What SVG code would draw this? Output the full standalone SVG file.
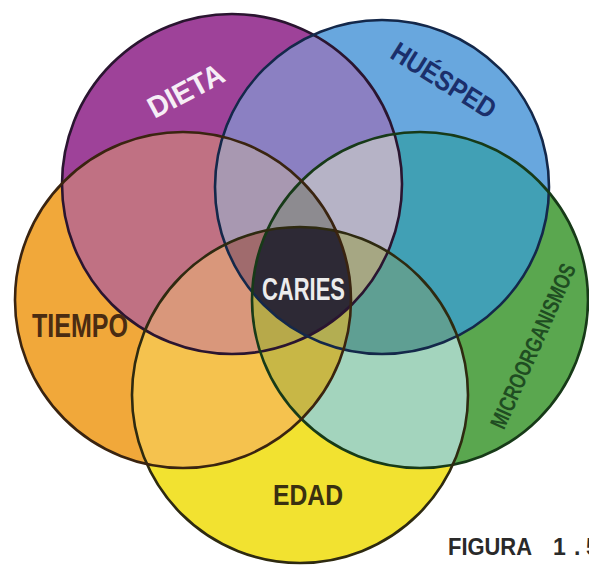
<svg xmlns="http://www.w3.org/2000/svg" width="589" height="566" viewBox="0 0 589 566">
<style>
.lbl{font-family:"Liberation Sans","DejaVu Sans",sans-serif;font-weight:bold}
.ol{fill:none;stroke-width:2.6}
</style>
<defs>
<circle id="D" cx="232" cy="184" r="170"/>
<circle id="H" cx="382" cy="187" r="167"/>
<circle id="M" cx="420" cy="300" r="168"/>
<circle id="E" cx="300" cy="395" r="168"/>
<circle id="T" cx="183" cy="300" r="168"/>
<clipPath id="cD"><use href="#D"/></clipPath>
<clipPath id="cH"><use href="#H"/></clipPath>
<clipPath id="cM"><use href="#M"/></clipPath>
<clipPath id="cE"><use href="#E"/></clipPath>
<clipPath id="cT"><use href="#T"/></clipPath>
</defs>
<rect width="589" height="566" fill="#ffffff"/>

<g id="sets">
<g id="node-dieta"><use href="#D" fill="#9e4299"/></g>
<g id="node-huesped"><use href="#H" fill="#68a7de"/></g>
<g id="node-micro"><use href="#M" fill="#5aa74f"/></g>
<g id="node-edad"><use href="#E" fill="#f2e230"/></g>
<g id="node-tiempo"><use href="#T" fill="#f1a83a"/></g>
</g>

<g id="pairs">
<g clip-path="url(#cD)"><use href="#H" fill="#8b80c2"/></g>
<g clip-path="url(#cH)"><use href="#M" fill="#41a0b5"/></g>
<g clip-path="url(#cM)"><use href="#E" fill="#a3d4bd"/></g>
<g clip-path="url(#cE)"><use href="#T" fill="#f5c24e"/></g>
<g clip-path="url(#cT)"><use href="#D" fill="#c07183"/></g>
</g>

<g id="triples">
<g clip-path="url(#cT)"><g clip-path="url(#cD)"><use href="#H" fill="#a898b1"/></g></g>
<g clip-path="url(#cD)"><g clip-path="url(#cH)"><use href="#M" fill="#b6b3c6"/></g></g>
<g clip-path="url(#cH)"><g clip-path="url(#cM)"><use href="#E" fill="#5f9f93"/></g></g>
<g clip-path="url(#cM)"><g clip-path="url(#cE)"><use href="#T" fill="#c8b746"/></g></g>
<g clip-path="url(#cE)"><g clip-path="url(#cT)"><use href="#D" fill="#d9977b"/></g></g>
</g>

<g id="quads">
<g clip-path="url(#cT)"><g clip-path="url(#cD)"><g clip-path="url(#cH)"><use href="#M" fill="#8d8b90"/></g></g></g>
<g clip-path="url(#cD)"><g clip-path="url(#cH)"><g clip-path="url(#cM)"><use href="#E" fill="#a6a783"/></g></g></g>
<g clip-path="url(#cH)"><g clip-path="url(#cM)"><g clip-path="url(#cE)"><use href="#T" fill="#b3ae52"/></g></g></g>
<g clip-path="url(#cM)"><g clip-path="url(#cE)"><g clip-path="url(#cT)"><use href="#D" fill="#b7a94a"/></g></g></g>
<g clip-path="url(#cE)"><g clip-path="url(#cT)"><g clip-path="url(#cD)"><use href="#H" fill="#a06b6d"/></g></g></g>
</g>

<g id="node-caries">
<g clip-path="url(#cD)"><g clip-path="url(#cH)"><g clip-path="url(#cM)"><g clip-path="url(#cE)"><use href="#T" fill="#2d2935"/></g></g></g></g>
</g>

<g id="outlines">
<use href="#D" class="ol" stroke="#2a1530"/>
<use href="#H" class="ol" stroke="#14284a"/>
<use href="#M" class="ol" stroke="#173a18"/>
<use href="#E" class="ol" stroke="#2e2a10"/>
<use href="#T" class="ol" stroke="#3a2410"/>
</g>

<g id="labels">
<text class="lbl" transform="translate(186,91) rotate(-28)" y="10" text-anchor="middle" font-size="30" textLength="82" lengthAdjust="spacingAndGlyphs" fill="#f6eef6">DIETA</text>
<text class="lbl" transform="translate(444,80) rotate(32)" y="10" text-anchor="middle" font-size="28" textLength="118" lengthAdjust="spacingAndGlyphs" fill="#1b2f6b">HUÉSPED</text>
<text class="lbl" transform="translate(533,346) rotate(-66)" y="8" text-anchor="middle" font-size="23" textLength="178" lengthAdjust="spacingAndGlyphs" fill="#1f4d22">MICROORGANISMOS</text>
<text class="lbl" x="32" y="337" font-size="33" textLength="96" lengthAdjust="spacingAndGlyphs" fill="#4a2c12">TIEMPO</text>
<text class="lbl" x="273" y="505" font-size="30" textLength="70" lengthAdjust="spacingAndGlyphs" fill="#3a3010">EDAD</text>
<text class="lbl" x="262" y="300" font-size="32" textLength="83" lengthAdjust="spacingAndGlyphs" fill="#ececec">CARIES</text>
<text class="lbl" y="555" font-size="23" fill="#2a2a2a"><tspan x="448" textLength="84" lengthAdjust="spacingAndGlyphs">FIGURA</tspan><tspan x="553 574 586">1.5</tspan></text>
</g>
</svg>
